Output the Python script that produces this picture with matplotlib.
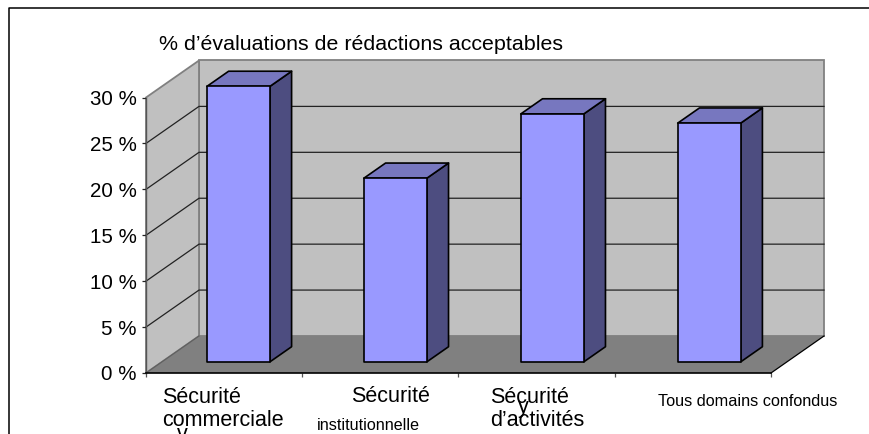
import matplotlib
matplotlib.use("Agg")
import matplotlib.pyplot as plt
from matplotlib.patches import Polygon
from matplotlib.lines import Line2D

plt.rcParams['font.family'] = ['Liberation Sans', 'DejaVu Sans']

categories = ["Sécurité\ncommerciale", "Sécurité", "Sécurité\nd’activités", "Tous domains confondus"]
values = [30, 20, 27, 26]
y_ticks = [0, 5, 10, 15, 20, 25, 30]
title = "% d’évaluations de rédactions acceptables"

W, H = 870, 434
# oblique offset of the back wall, in data units
DX = 53 / 156.25
DY = 37 / 9.18
BAR_WIDTH = 0.403
D0, D1 = 0.30, 0.71


def proj(x, y, d):
    return x + d * DX, y + d * DY


fig = plt.figure(figsize=(W / 100, H / 100), dpi=100)
ax = fig.add_axes([146 / W, (H - 373) / H, 625 / W, 275.5 / H])
ax.set_xlim(0, 4)
ax.set_ylim(0, 30)
ax.patch.set_visible(False)

# outer chart frame
fig.add_artist(Line2D([9.5 / W, 9.5 / W, 1], [0, (H - 8) / H, (H - 8) / H], color='black', lw=1.1))

top = y_ticks[-1]
wall = '#c0c0c0'
edge = '#808080'

# back wall, side wall and floor
ax.add_patch(Polygon([proj(0, 0, 1), proj(4, 0, 1), proj(4, top, 1), proj(0, top, 1)],
                     fc=wall, ec=edge, lw=1.3, clip_on=False, zorder=1))
ax.add_patch(Polygon([proj(0, 0, 0), proj(0, 0, 1), proj(0, top, 1), proj(0, top, 0)],
                     fc=wall, ec=edge, lw=1.3, clip_on=False, zorder=1))
ax.add_patch(Polygon([proj(0, 0, 0), proj(4, 0, 0), proj(4, 0, 1), proj(0, 0, 1)],
                     fc=edge, ec='none', clip_on=False, zorder=1))

# gridlines run along the side wall and across the back wall
for t in y_ticks[1:-1]:
    xs, ys = zip(proj(0, t, 0), proj(0, t, 1), proj(4, t, 1))
    ax.plot(xs, ys, color='#222222', lw=0.9, clip_on=False, zorder=2)
xs, ys = zip(proj(4, 0, 0), proj(4, 0, 1))
ax.plot(xs, ys, color='black', lw=0.9, clip_on=False, zorder=2)
xs, ys = zip(proj(0, 0, 0), proj(0, 0, 1))
ax.plot(xs, ys, color='#606060', lw=0.9, clip_on=False, zorder=2)

# boxes: side, top, then front
for i, v in enumerate(values):
    x0 = 0.288 + i * 1.0044
    x1 = x0 + BAR_WIDTH
    ax.add_patch(Polygon([proj(x1, 0, D0), proj(x1, 0, D1), proj(x1, v, D1), proj(x1, v, D0)],
                         fc='#4d4d80', ec='black', lw=1.2, clip_on=False, zorder=3, joinstyle='round'))
    ax.add_patch(Polygon([proj(x0, v, D0), proj(x1, v, D0), proj(x1, v, D1), proj(x0, v, D1)],
                         fc='#7777bf', ec='black', lw=1.2, clip_on=False, zorder=3, joinstyle='round'))
    ax.add_patch(Polygon([proj(x0, 0, D0), proj(x1, 0, D0), proj(x1, v, D0), proj(x0, v, D0)],
                         fc='#9999ff', ec='black', lw=1.2, clip_on=False, zorder=4, joinstyle='round'))

for s in ['top', 'right']:
    ax.spines[s].set_visible(False)
ax.spines['left'].set_color('#555555')
ax.spines['left'].set_linewidth(1.0)
ax.spines['bottom'].set_color('black')
ax.spines['bottom'].set_linewidth(1.2)
for s in ax.spines.values():
    s.set_zorder(5)

ax.set_yticks(y_ticks)
ax.set_yticklabels([f"{t} %" for t in y_ticks], fontsize=14.8, color='black')
ax.tick_params(axis='y', length=3, width=0.9, pad=3.5, color='#222222')
ax.set_xticks(range(5))
ax.set_xticklabels([])
ax.tick_params(axis='x', length=3, width=0.9, color='#555555')


def px_text(x, y, s, size, **kw):
    fig.text(x / W, 1 - y / H, s, fontsize=size, color='black', **kw)


px_text(159, 45, title, 15.4, va='center', ha='left')
px_text(162, 409, categories[0], 15.5, va='center', ha='left', linespacing=1.1)
px_text(351, 396, categories[1], 15.5, va='center', ha='left')
px_text(317, 426, "institutionnelle", 11.6, va='center', ha='left')
px_text(490, 409, categories[2], 15.5, va='center', ha='left', linespacing=1.1)
px_text(658, 401, categories[3], 11.7, va='center', ha='left')
# stray glyphs sitting over the axis labels
px_text(182, 434, "v", 15.5, va='center', ha='center')
px_text(523, 407, "y", 15.5, va='center', ha='center')

fig.savefig("out.png", dpi=100, facecolor='white')
